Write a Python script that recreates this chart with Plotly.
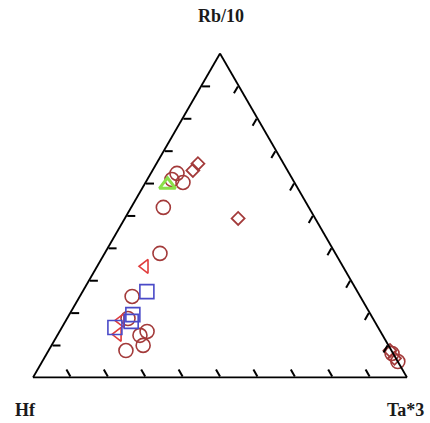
import plotly.graph_objects as go

# Ternary data: a = Rb/10 (top), b = Hf (left), c = Ta*3 (right)
circle_a = [0.630, 0.611, 0.602, 0.525, 0.383, 0.250, 0.182, 0.142, 0.130, 0.083, 0.099, 0.074, 0.049]
circle_b = [0.300, 0.323, 0.298, 0.389, 0.469, 0.610, 0.655, 0.624, 0.649, 0.710, 0.656, 0.003, 0.000]
circle_c = [0.070, 0.066, 0.100, 0.086, 0.148, 0.140, 0.163, 0.234, 0.221, 0.207, 0.245, 0.923, 0.951]

diamond_a = [0.639, 0.660, 0.491, 0.083, 0.059]
diamond_b = [0.253, 0.229, 0.206, 0.004, 0.004]
diamond_c = [0.108, 0.111, 0.303, 0.913, 0.937]

green_a = [0.593]
green_b = [0.342]
green_c = [0.062]

redtri_a = [0.343, 0.176, 0.133]
redtri_b = [0.529, 0.677, 0.706]
redtri_c = [0.128, 0.147, 0.161]

square_a = [0.265, 0.194, 0.173, 0.154]
square_b = [0.563, 0.636, 0.651, 0.704]
square_c = [0.172, 0.170, 0.176, 0.142]

brown = "#a33a3a"

fig = go.Figure()
fig.add_trace(go.Scatterternary(a=circle_a, b=circle_b, c=circle_c, mode="markers", cliponaxis=False,
                                marker=dict(symbol="circle-open", size=14, color=brown,
                                            line=dict(width=1.6, color=brown))))
fig.add_trace(go.Scatterternary(a=diamond_a, b=diamond_b, c=diamond_c, mode="markers", cliponaxis=False,
                                marker=dict(symbol="diamond-open", size=10, color=brown,
                                            line=dict(width=1.8, color=brown))))
fig.add_trace(go.Scatterternary(a=redtri_a, b=redtri_b, c=redtri_c, mode="markers", cliponaxis=False,
                                marker=dict(symbol="triangle-left-open", size=12, color="#e03c3c",
                                            line=dict(width=1.6, color="#e03c3c"))))
fig.add_trace(go.Scatterternary(a=square_a, b=square_b, c=square_c, mode="markers", cliponaxis=False,
                                marker=dict(symbol="square-open", size=14, color="#4a4ac8",
                                            line=dict(width=1.6, color="#4a4ac8"))))
fig.add_trace(go.Scatterternary(a=green_a, b=green_b, c=green_c, mode="markers", cliponaxis=False,
                                marker=dict(symbol="triangle-up-open", size=14, color="#8be04a",
                                            line=dict(width=3, color="#8be04a"))))

axis_style = dict(showgrid=False, showticklabels=False, ticks="inside", ticklen=8,
                  tickcolor="black", tickwidth=1.5, tick0=0, dtick=0.1,
                  linecolor="black", linewidth=1.8, title=dict(text=""), min=0)

font = dict(family="Liberation Serif", size=18, color="#1a1a1a")
fig.update_layout(
    width=430, height=423,
    margin=dict(l=33, r=23, t=52, b=44),
    paper_bgcolor="white",
    showlegend=False,
    ternary=dict(bgcolor="white", sum=1,
                 aaxis=axis_style, baxis=axis_style, caxis=axis_style),
    annotations=[
        dict(text="<b>Rb/10</b>", x=221, y=423 - 16, xref="paper", yref="paper", showarrow=False,
             xanchor="center", yanchor="middle", font=font),
        dict(text="<b>Hf</b>", x=25, y=423 - 410, xref="paper", yref="paper", showarrow=False,
             xanchor="center", yanchor="middle", font=font),
        dict(text="<b>Ta*3</b>", x=405, y=423 - 410, xref="paper", yref="paper", showarrow=False,
             xanchor="center", yanchor="middle", font=font),
    ],
)

# convert pixel annotation positions to paper coordinates
pw = 430 - 33 - 23
ph = 423 - 52 - 44
for ann in fig.layout.annotations:
    ann.x = (ann.x - 33) / pw
    ann.y = (ann.y - 44) / ph

fig.write_html("out.html")
